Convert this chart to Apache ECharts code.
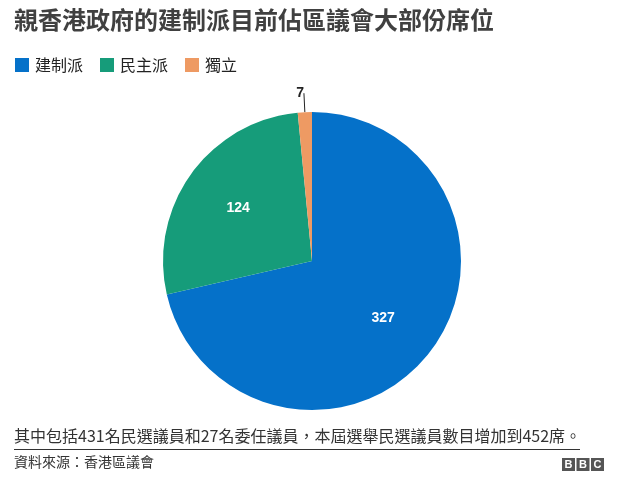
<!DOCTYPE html>
<html><head><meta charset="utf-8">
<script src="https://cdn.jsdelivr.net/npm/echarts@6/dist/echarts.min.js"></script>
<style>html,body{margin:0;padding:0;background:#fff}#c{width:617px;height:481px}</style>
</head><body><div id="c"></div>
<script>
const categories = ['建制派', '民主派', '獨立'];
const seats = [327, 124, 7];
const colors = ['#0571c9', '#169c7a', '#ee9a63'];
const titleText = '親香港政府的建制派目前佔區議會大部份席位';
const noteText = '其中包括431名民選議員和27名委任議員，本屆選舉民選議員數目增加到452席。';
const sourceText = '資料來源：香港區議會';
const FONT = '"Noto Sans CJK TC", "Liberation Sans", sans-serif';

const chart = echarts.init(document.getElementById('c'));
const mainData = categories.map((n, i) => ({
  name: n, value: seats[i],
  itemStyle: { color: colors[i] },
  label: { show: i === 2 },
  labelLine: { show: i === 2 }
}));
const labelData = categories.map((n, i) => ({
  name: n, value: seats[i],
  label: { show: i !== 2 }
}));
chart.setOption({
  animation: false,
  textStyle: { fontFamily: FONT },
  title: {
    text: titleText, left: 9, top: 3,
    textStyle: { fontFamily: FONT, fontSize: 24, fontWeight: 'bold', color: '#404040' }
  },
  legend: {
    data: categories, left: 10, top: 52, icon: 'rect', itemWidth: 14, itemHeight: 14, itemGap: 17,
    textStyle: { fontFamily: FONT, fontSize: 16, color: '#222', padding: [0, 0, 0, 1] }
  },
  color: colors,
  series: [
    {
      type: 'pie', center: [312, 261], radius: [0, 149], startAngle: 90, clockwise: true,
      data: mainData, silent: true,
      label: { position: 'outside', formatter: '{c}', fontFamily: 'Liberation Sans', fontWeight: 'bold', fontSize: 14, color: '#222', distanceToLabelLine: 0 },
      labelLine: { length: 19, length2: 0, lineStyle: { color: '#222', width: 1 } },
      itemStyle: { borderWidth: 0 }
    },
    {
      type: 'pie', center: [312, 261], radius: [0, 176], startAngle: 90, clockwise: true,
      data: labelData, silent: true, legendHoverLink: false,
      itemStyle: { color: 'rgba(0,0,0,0)' },
      label: { position: 'inside', formatter: '{c}', fontFamily: 'Liberation Sans', fontWeight: 'bold', fontSize: 14, color: '#fff' },
      labelLine: { show: false }
    }
  ],
  graphic: [
    { type: 'text', left: 14, top: 428, style: { text: noteText, font: '16px ' + FONT, fill: '#333' } },
    { type: 'line', shape: { x1: 14, y1: 449.5, x2: 580, y2: 449.5 }, style: { stroke: '#333', lineWidth: 1 } },
    { type: 'text', left: 14, top: 455, style: { text: sourceText, font: '14px ' + FONT, fill: '#333' } },
    { type: 'group', left: 562, top: 458, children: [
      { type: 'rect', shape: { x: 0, y: 0, width: 13, height: 13 }, style: { fill: '#555' } },
      { type: 'text', x: 6.5, y: 7, style: { text: 'B', font: 'bold 11px "Liberation Sans"', fill: '#fff', align: 'center', verticalAlign: 'middle' } },
      { type: 'rect', shape: { x: 14.5, y: 0, width: 13, height: 13 }, style: { fill: '#555' } },
      { type: 'text', x: 21, y: 7, style: { text: 'B', font: 'bold 11px "Liberation Sans"', fill: '#fff', align: 'center', verticalAlign: 'middle' } },
      { type: 'rect', shape: { x: 29, y: 0, width: 13, height: 13 }, style: { fill: '#555' } },
      { type: 'text', x: 35.5, y: 7, style: { text: 'C', font: 'bold 11px "Liberation Sans"', fill: '#fff', align: 'center', verticalAlign: 'middle' } }
    ]}
  ]
});
</script></body></html>
